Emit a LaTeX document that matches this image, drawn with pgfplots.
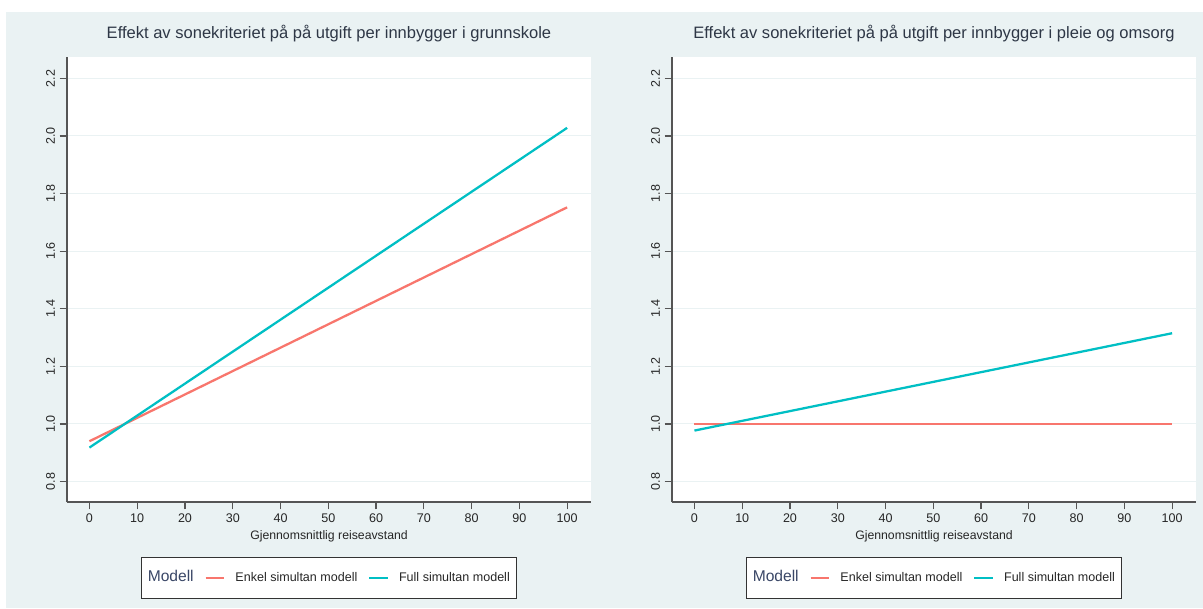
\documentclass[border=0pt]{standalone}
\usepackage{pgfplots}
\pgfplotsset{compat=1.18}
\usepackage{fontspec}
\setmainfont{Liberation Sans}

\definecolor{bgpanel}{HTML}{EAF2F3}
\definecolor{enkel}{HTML}{F8766D}
\definecolor{full}{HTML}{00BFC4}
\definecolor{gridc}{HTML}{EAF2F3}
\definecolor{axisc}{HTML}{555555}
\definecolor{titlec}{HTML}{2E3746}
\definecolor{textc}{HTML}{262626}
\definecolor{legtitle}{HTML}{3A4767}

\pgfplotsset{
  panel/.style={
    scale only axis, width=393pt, height=333.75pt, anchor=south west,
    axis lines=left, axis line style={-, draw=axisc, line width=1.1pt},
    axis background/.style={fill=white},
    xmin=-4.7, xmax=105, ymin=0.729, ymax=2.274,
    xtick={0,10,...,100}, ytick={0.8,1,1.2,1.4,1.6,1.8,2,2.2},
    tick align=outside, major tick length=5.5pt,
    tick style={draw=axisc, line width=0.9pt},
    ymajorgrids, grid style={draw=gridc, line width=0.8pt},
    ticklabel style={font=\fontsize{9.4}{11}\selectfont, text=textc},
    /pgf/number format/assume math mode=true,
    yticklabel style={rotate=90, anchor=south,
      /pgf/number format/.cd, fixed, fixed zerofill, precision=1},
    xlabel={Gjennomsnittlig reiseavstand},
    xlabel style={font=\fontsize{9.2}{11}\selectfont, text=textc,
      at={(axis description cs:0.5,0)}, anchor=base, yshift=-28pt},
    title style={font=\fontsize{12.4}{14}\selectfont, text=titlec,
      at={(axis description cs:0.5,1)}, anchor=base, yshift=7.7pt},
    legend style={
      at={(0.5,-0.124)}, anchor=north, legend columns=3,
      draw=black!80, line width=0.7pt, fill=white,
      inner xsep=3.3pt, inner ysep=7.2pt,
      font=\fontsize{9.4}{11}\selectfont, text=textc,
      /tikz/every odd column/.append style={column sep=5.6pt},
      /tikz/every even column/.append style={column sep=6pt},
    },
    legend cell align=left,
    legend image code/.code={\draw[#1] (0pt,0pt) -- (14pt,0pt);},
  },
}

% legend heading "Modell" in front of the two model entries
\newcommand{\legendtitle}{\addlegendimage{empty legend}%
  \addlegendentry{\hspace*{-5.9pt}\raisebox{2pt}{\textcolor{legtitle}{\fontsize{11.7}{13}\selectfont Modell}}}}

\begin{document}
\begin{tikzpicture}
\path[use as bounding box] (0,0) rectangle (902.25pt,456pt);
\fill[bgpanel] (4.5pt,0) rectangle (902.25pt,447pt);

% Grunnskole
\begin{axis}[panel, at={(50.25pt,79.5pt)},
  title={Effekt av sonekriteriet på på utgift per innbygger i grunnskole}]
  \legendtitle
  \addplot[enkel, line width=1.7pt] coordinates {(0,0.940) (100,1.752)};
  \addlegendentry{Enkel simultan modell}
  \addplot[full, line width=1.7pt] coordinates {(0,0.918) (100,2.028)};
  \addlegendentry{Full simultan modell}
\end{axis}

% Pleie og omsorg
\begin{axis}[panel, at={(504pt,79.5pt)},
  title={Effekt av sonekriteriet på på utgift per innbygger i pleie og omsorg}]
  \legendtitle
  \addplot[enkel, line width=1.7pt] coordinates {(0,1.000) (100,1.000)};
  \addlegendentry{Enkel simultan modell}
  \addplot[full, line width=1.7pt] coordinates {(0,0.977) (100,1.315)};
  \addlegendentry{Full simultan modell}
\end{axis}
\end{tikzpicture}
\end{document}
